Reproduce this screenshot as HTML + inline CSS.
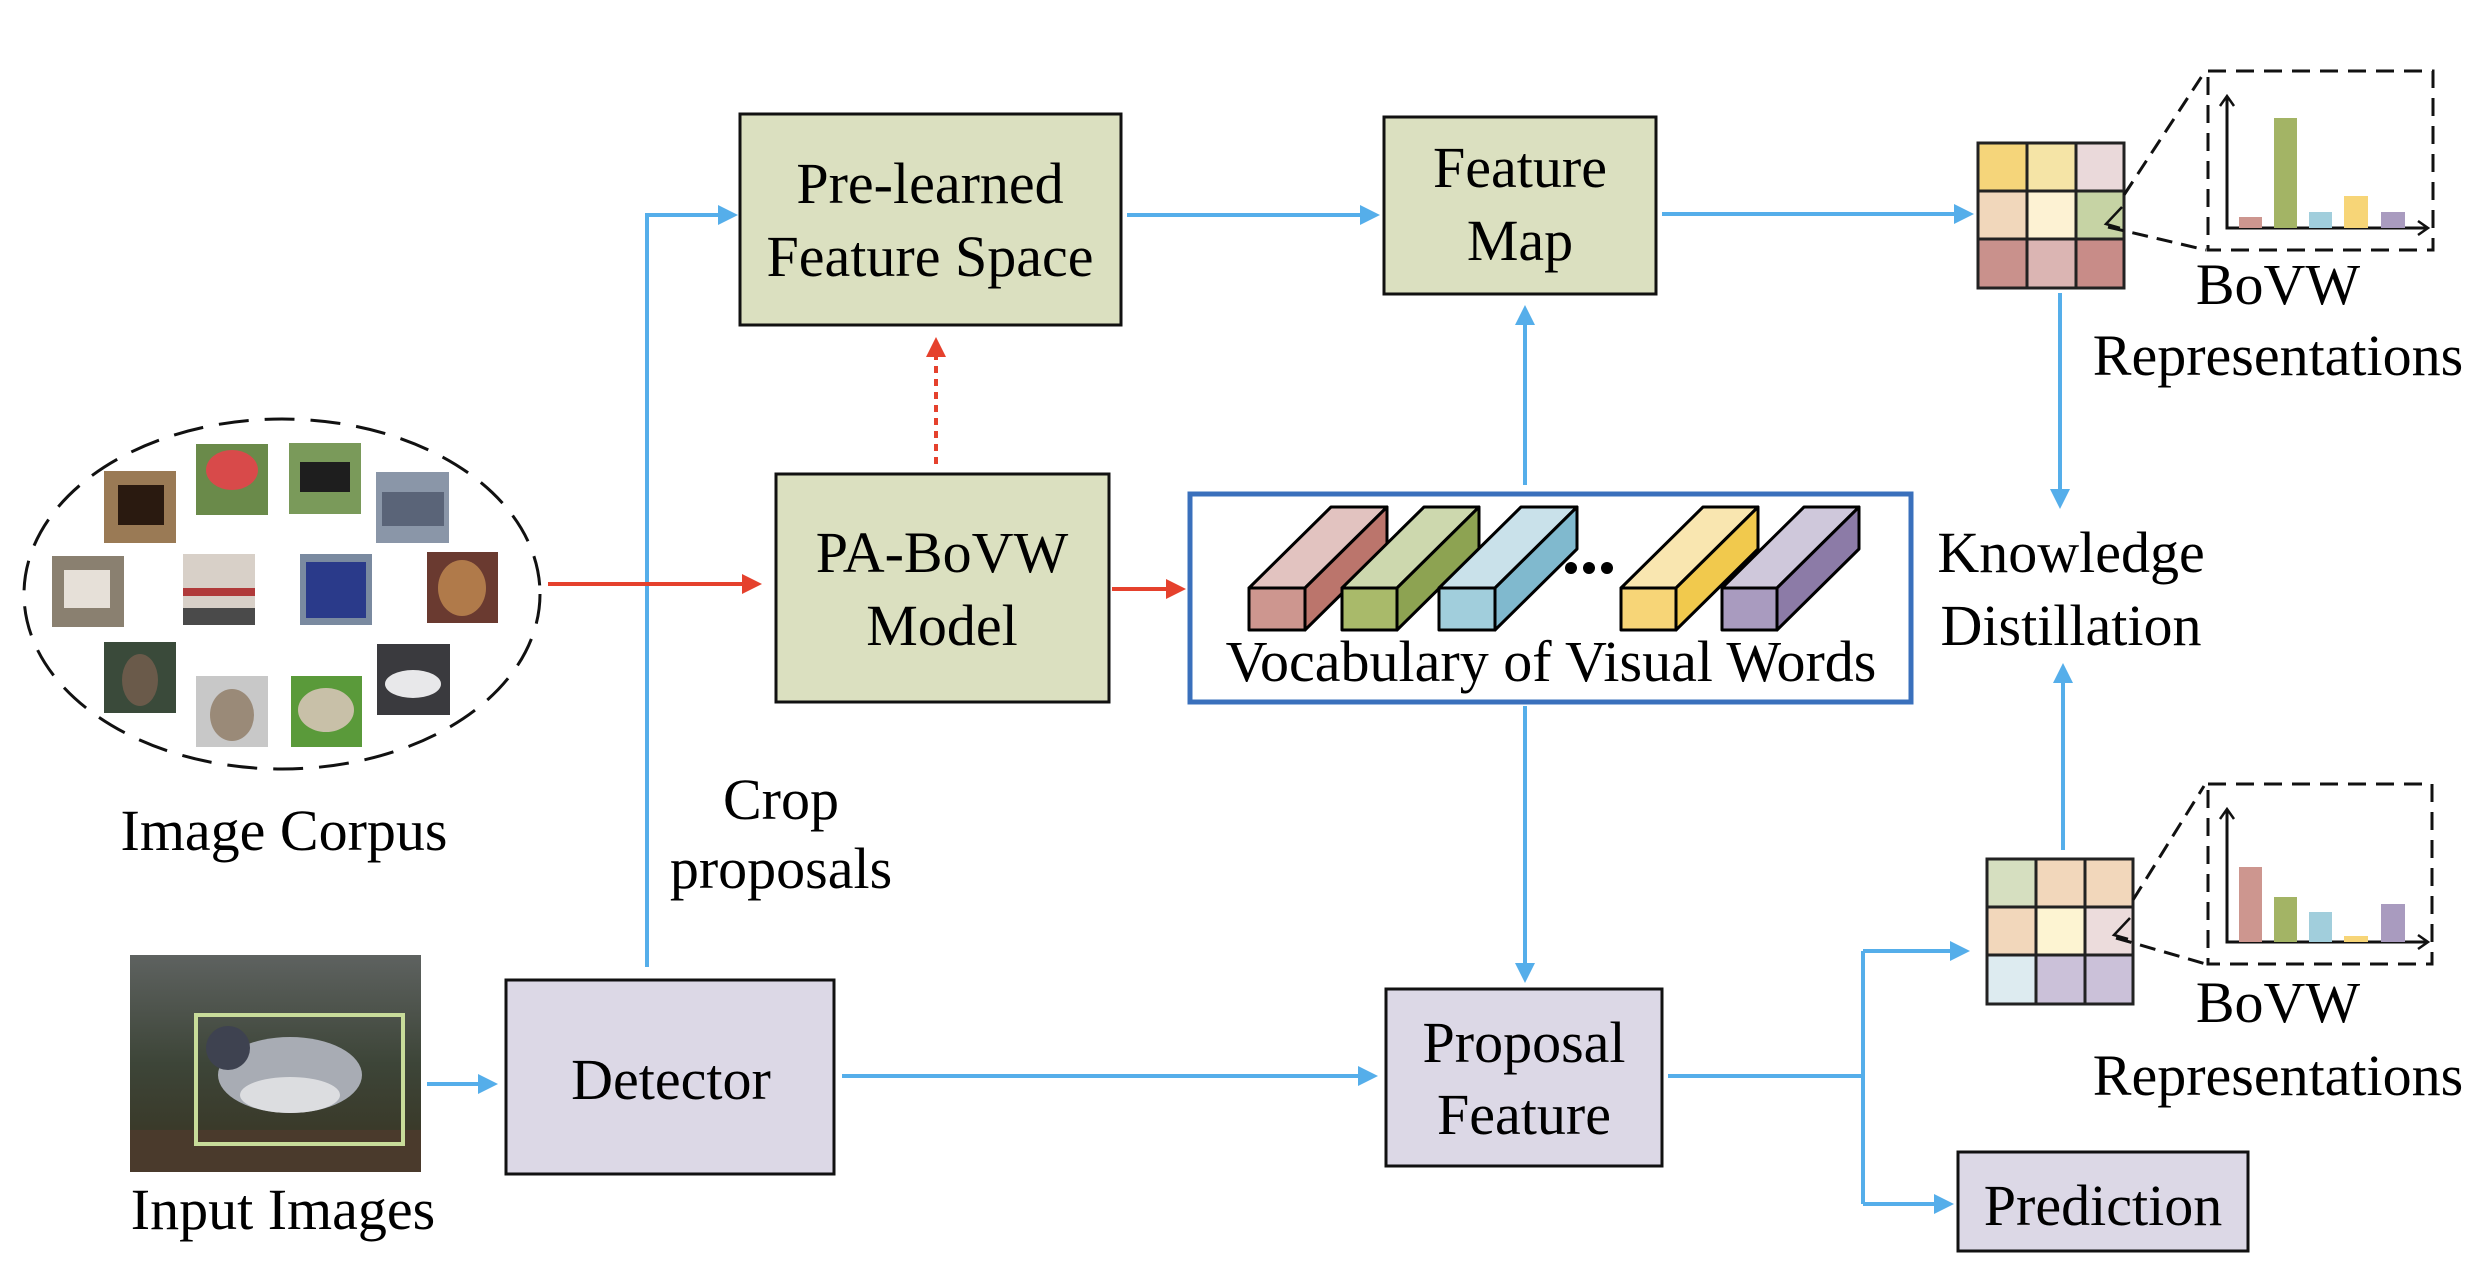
<!DOCTYPE html>
<html><head><meta charset="utf-8"><style>
html,body{margin:0;padding:0;background:#fff;}
svg{display:block;}
text{font-family:"Liberation Serif",serif;font-size:58px;fill:#000;}
</style></head><body>
<svg width="2490" height="1272" viewBox="0 0 2490 1272" xmlns="http://www.w3.org/2000/svg">
<defs>
<marker id="ab" markerWidth="10" markerHeight="10" refX="9" refY="5" orient="auto" markerUnits="userSpaceOnUse" viewBox="0 0 10 10"><path d="M0,0 L10,5 L0,10z" fill="#55aeea"/></marker>
<marker id="ar" markerWidth="10" markerHeight="10" refX="9" refY="5" orient="auto" markerUnits="userSpaceOnUse" viewBox="0 0 10 10"><path d="M0,0 L10,5 L0,10z" fill="#e5412d"/></marker>
<linearGradient id="bg" x1="0" y1="0" x2="0" y2="1"><stop offset="0" stop-color="#5e6260"/><stop offset="0.5" stop-color="#3d4538"/><stop offset="0.8" stop-color="#3a3a2a"/><stop offset="1" stop-color="#5a4a3a"/></linearGradient>
</defs>
<style>
.bl{stroke:#55aeea;stroke-width:4;fill:none}
.rd{stroke:#e5412d;stroke-width:4;fill:none}
.bx{stroke:#111;stroke-width:3}
</style>
<!-- marker sized via strokes: use explicit heads -->
<!-- Ellipse corpus -->
<ellipse cx="282" cy="594" rx="258" ry="175" fill="none" stroke="#111" stroke-width="3" stroke-dasharray="30,16"/>
<rect x="104" y="471" width="72" height="72" fill="#9a7a55"/><rect x="118" y="485" width="46" height="40" fill="#2a1a10"/>
<rect x="196" y="444" width="72" height="71" fill="#6a8a4a"/><ellipse cx="232" cy="470" rx="26" ry="20" fill="#d84a4a"/>
<rect x="289" y="443" width="72" height="71" fill="#7a9a5a"/><rect x="300" y="462" width="50" height="30" fill="#1e1e1e"/>
<rect x="376" y="472" width="73" height="71" fill="#8a96a8"/><rect x="382" y="492" width="62" height="34" fill="#5a6478"/>
<rect x="52" y="556" width="72" height="71" fill="#8a8070"/><rect x="64" y="570" width="46" height="38" fill="#e6e0d8"/>
<rect x="183" y="554" width="72" height="71" fill="#d8d0c8"/><rect x="183" y="588" width="72" height="8" fill="#b03a3a"/><rect x="183" y="608" width="72" height="17" fill="#4a4a4a"/>
<rect x="300" y="554" width="72" height="71" fill="#7a8aa0"/><rect x="306" y="562" width="60" height="56" fill="#2a3a8a"/>
<rect x="427" y="552" width="71" height="71" fill="#6a3a30"/><ellipse cx="462" cy="588" rx="24" ry="28" fill="#b07a4a"/>
<rect x="104" y="642" width="72" height="71" fill="#3a4a3a"/><ellipse cx="140" cy="680" rx="18" ry="26" fill="#6a5a4a"/>
<rect x="196" y="676" width="72" height="71" fill="#c8c8c8"/><ellipse cx="232" cy="715" rx="22" ry="26" fill="#9a8a78"/>
<rect x="291" y="676" width="71" height="71" fill="#5a9a3a"/><ellipse cx="326" cy="710" rx="28" ry="22" fill="#c8c0a8"/>
<rect x="377" y="644" width="73" height="71" fill="#3a3a3e"/><ellipse cx="413" cy="684" rx="28" ry="14" fill="#e8e8ea"/>
<text x="284" y="850" text-anchor="middle">Image Corpus</text>
<!-- Input image -->
<rect x="130" y="955" width="291" height="217" fill="url(#bg)"/>
<rect x="130" y="1130" width="291" height="42" fill="#4a3a2c"/>
<ellipse cx="290" cy="1075" rx="72" ry="38" fill="#a8acb4"/><circle cx="228" cy="1048" r="22" fill="#3e4250"/><ellipse cx="290" cy="1095" rx="50" ry="18" fill="#dcdde0"/>
<rect x="196" y="1015" width="207" height="129" fill="none" stroke="#c8dc9a" stroke-width="4"/>
<text x="283" y="1229" text-anchor="middle">Input Images</text>
<!-- Boxes -->
<rect class="bx" x="740" y="114" width="381" height="211" fill="#dbe0c0"/>
<text x="930" y="203" text-anchor="middle">Pre-learned</text><text x="930" y="276" text-anchor="middle">Feature Space</text>
<rect class="bx" x="776" y="474" width="333" height="228" fill="#dbe0c0"/>
<text x="942" y="572" text-anchor="middle">PA-BoVW</text><text x="942" y="645" text-anchor="middle">Model</text>
<rect class="bx" x="1384" y="117" width="272" height="177" fill="#dbe0c0"/>
<text x="1520" y="187" text-anchor="middle">Feature</text><text x="1520" y="260" text-anchor="middle">Map</text>
<rect class="bx" x="506" y="980" width="328" height="194" fill="#dcd8e6"/>
<text x="671" y="1099" text-anchor="middle">Detector</text>
<rect class="bx" x="1386" y="989" width="276" height="177" fill="#dcd8e6"/>
<text x="1524" y="1062" text-anchor="middle">Proposal</text><text x="1524" y="1134" text-anchor="middle">Feature</text>
<rect class="bx" x="1958" y="1152" width="290" height="99" fill="#dcd8e6"/>
<text x="2103" y="1225" text-anchor="middle">Prediction</text>
<text x="781" y="819" text-anchor="middle">Crop</text><text x="781" y="888" text-anchor="middle">proposals</text>
<!-- Vocab box -->
<rect x="1190" y="494" width="721" height="208" fill="#fff" stroke="#3a70bc" stroke-width="5"/>
<g stroke="#000" stroke-width="3" stroke-linejoin="round">
<g><polygon points="1249,588 1331,507 1387,507 1305,588" fill="#e2c3c0"/><polygon points="1305,588 1387,507 1387,549 1305,630" fill="#bb756c"/><rect x="1249" y="588" width="56" height="42" fill="#cd968f"/></g>
<g><polygon points="1342,588 1424,507 1479,507 1397,588" fill="#cdd8ae"/><polygon points="1397,588 1479,507 1479,549 1397,630" fill="#8da352"/><rect x="1342" y="588" width="55" height="42" fill="#a9ba6a"/></g>
<g><polygon points="1439,588 1521,507 1577,507 1495,588" fill="#c9e1ea"/><polygon points="1495,588 1577,507 1577,549 1495,630" fill="#80b9ce"/><rect x="1439" y="588" width="56" height="42" fill="#a1cedc"/></g>
<g><polygon points="1621,588 1703,507 1758,507 1676,588" fill="#f9e6b0"/><polygon points="1676,588 1758,507 1758,549 1676,630" fill="#f1c94d"/><rect x="1621" y="588" width="55" height="42" fill="#f7d577"/></g>
<g><polygon points="1722,588 1804,507 1859,507 1777,588" fill="#cfc8db"/><polygon points="1777,588 1859,507 1859,549 1777,630" fill="#8c7ba7"/><rect x="1722" y="588" width="55" height="42" fill="#a99bbf"/></g>
</g>
<circle cx="1571" cy="568" r="6"/><circle cx="1589" cy="568" r="6"/><circle cx="1607" cy="568" r="6"/>
<text x="1551" y="681" text-anchor="middle" font-size="57">Vocabulary of Visual Words</text>
<!-- Top grid -->
<g stroke="#222" stroke-width="3">
<rect x="1978" y="143" width="49" height="48" fill="#f5d57a"/><rect x="2027" y="143" width="49" height="48" fill="#f5e4a6"/><rect x="2076" y="143" width="48" height="48" fill="#ead9da"/>
<rect x="1978" y="191" width="49" height="48" fill="#f1d7bb"/><rect x="2027" y="191" width="49" height="48" fill="#fdf2d3"/><rect x="2076" y="191" width="48" height="48" fill="#c6d3a4"/>
<rect x="1978" y="239" width="49" height="49" fill="#c9918c"/><rect x="2027" y="239" width="49" height="49" fill="#dbb5b3"/><rect x="2076" y="239" width="48" height="49" fill="#c88c88"/>
</g>
<rect x="2208" y="71" width="225" height="179" fill="none" stroke="#111" stroke-width="3" stroke-dasharray="18,10"/>
<path d="M2124,195 L2204,73 M2108,227 L2206,250" stroke="#111" stroke-width="3" stroke-dasharray="16,9" fill="none"/>
<path d="M2122,207 L2106,224 L2120,228" stroke="#111" stroke-width="2.5" fill="none"/>
<path d="M2227,96 L2227,228 L2428,228" stroke="#111" stroke-width="3" fill="none"/>
<path d="M2220,106 L2227,96 L2234,106 M2418,221 L2428,228 L2418,235" stroke="#111" stroke-width="2.5" fill="none"/>
<rect x="2239" y="217" width="23" height="11" fill="#cd968f"/><rect x="2274" y="118" width="23" height="110" fill="#a3b465"/><rect x="2309" y="212" width="23" height="16" fill="#a1cedc"/><rect x="2344" y="196" width="24" height="32" fill="#f7d577"/><rect x="2381" y="212" width="24" height="16" fill="#a99bbf"/>
<text x="2278" y="304" text-anchor="middle">BoVW</text><text x="2278" y="375" text-anchor="middle">Representations</text>
<text x="2071" y="572" text-anchor="middle">Knowledge</text><text x="2071" y="645" text-anchor="middle">Distillation</text>
<!-- Bottom grid -->
<g stroke="#222" stroke-width="3">
<rect x="1987" y="859" width="49" height="48" fill="#d6dfc0"/><rect x="2036" y="859" width="49" height="48" fill="#f2d7bb"/><rect x="2085" y="859" width="48" height="48" fill="#f2d7bb"/>
<rect x="1987" y="907" width="49" height="48" fill="#f2d7bb"/><rect x="2036" y="907" width="49" height="48" fill="#fdf4d2"/><rect x="2085" y="907" width="48" height="48" fill="#ecdcdc"/>
<rect x="1987" y="955" width="49" height="49" fill="#ddebf0"/><rect x="2036" y="955" width="49" height="49" fill="#cbc1d9"/><rect x="2085" y="955" width="48" height="49" fill="#cbc1d9"/>
</g>
<rect x="2208" y="784" width="224" height="180" fill="none" stroke="#111" stroke-width="3" stroke-dasharray="18,10"/>
<path d="M2133,900 L2204,786 M2116,938 L2206,964" stroke="#111" stroke-width="3" stroke-dasharray="16,9" fill="none"/>
<path d="M2130,918 L2114,935 L2128,939" stroke="#111" stroke-width="2.5" fill="none"/>
<path d="M2227,809 L2227,942 L2428,942" stroke="#111" stroke-width="3" fill="none"/>
<path d="M2220,819 L2227,809 L2234,819 M2418,935 L2428,942 L2418,949" stroke="#111" stroke-width="2.5" fill="none"/>
<rect x="2239" y="867" width="23" height="75" fill="#cd968f"/><rect x="2274" y="897" width="23" height="45" fill="#a3b465"/><rect x="2309" y="912" width="23" height="30" fill="#a1cedc"/><rect x="2344" y="936" width="24" height="6" fill="#f7d577"/><rect x="2381" y="904" width="24" height="38" fill="#a99bbf"/>
<text x="2278" y="1022" text-anchor="middle">BoVW</text><text x="2278" y="1095" text-anchor="middle">Representations</text>
<!-- Connectors -->
<g fill="#55aeea">
<path class="bl" d="M647,967 L647,215 L720,215"/><polygon points="738,215 718,205 718,225"/>
<path class="bl" d="M1127,215 L1362,215"/><polygon points="1380,215 1360,205 1360,225"/>
<path class="bl" d="M1662,214 L1956,214"/><polygon points="1974,214 1954,204 1954,224"/>
<path class="bl" d="M1525,485 L1525,325"/><polygon points="1525,305 1515,325 1535,325"/>
<path class="bl" d="M1525,706 L1525,963"/><polygon points="1525,983 1515,963 1535,963"/>
<path class="bl" d="M2060,293 L2060,489"/><polygon points="2060,509 2050,489 2070,489"/>
<path class="bl" d="M2063,850 L2063,683"/><polygon points="2063,663 2053,683 2073,683"/>
<path class="bl" d="M427,1084 L478,1084"/><polygon points="498,1084 478,1074 478,1094"/>
<path class="bl" d="M842,1076 L1358,1076"/><polygon points="1378,1076 1358,1066 1358,1086"/>
<path class="bl" d="M1668,1076 L1863,1076 M1863,951 L1863,1204 M1863,951 L1950,951 M1863,1204 L1934,1204"/><polygon points="1970,951 1950,941 1950,961"/><polygon points="1954,1204 1934,1194 1934,1214"/>
</g>
<g fill="#e5412d">
<path class="rd" d="M548,584 L742,584"/><polygon points="762,584 742,574 742,594"/>
<path class="rd" d="M1112,589 L1166,589"/><polygon points="1186,589 1166,579 1166,599"/>
<path class="rd" d="M936,464 L936,356" stroke-dasharray="7,6"/><polygon points="936,337 926,357 946,357"/>
</g>
</svg>
</body></html>
